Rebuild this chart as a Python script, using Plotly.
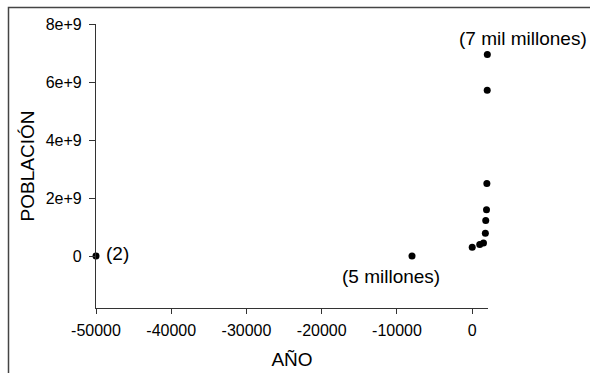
import plotly.graph_objects as go

years = [-50000, -8000, 1, 1000, 1500, 1750, 1800, 1900, 1950, 1995, 2011]
population = [2, 5e6, 3.0e8, 4.0e8, 4.5e8, 7.9e8, 1.23e9, 1.6e9, 2.5e9, 5.72e9, 6.95e9]

x_ticks = [-50000, -40000, -30000, -20000, -10000, 0]
x_tick_labels = ["-50000", "-40000", "-30000", "-20000", "-10000", "0"]
y_ticks = [0, 2e9, 4e9, 6e9, 8e9]
y_tick_labels = ["0", "2e+9", "4e+9", "6e+9", "8e+9"]

labels = ["(2)", "(5 millones)", "(7 mil millones)"]
label_idx = [0, 1, 10]

W, H = 590, 373
L, R, T, B = 96, 102, 24, 65
pw, ph = W - L - R, H - T - B

font = "Liberation Sans, Arial, sans-serif"

fig = go.Figure()
fig.add_trace(go.Scatter(
    x=years, y=population, mode="markers",
    marker=dict(color="black", size=7),
    cliponaxis=False, showlegend=False, hoverinfo="skip",
))

shifts = [(8, 3, "left"), (-21, -21, "center"), (36, 16, "center")]
for lab, i, (xs, ys, xa) in zip(labels, label_idx, shifts):
    fig.add_annotation(x=years[i], y=population[i], text=lab, showarrow=False,
                       xshift=xs, yshift=ys, xanchor=xa, yanchor="middle",
                       font=dict(size=19, color="black", family=font))

def px2paper_x(px):
    return (px - L) / pw

def px2paper_y(py):
    return (H - B - py) / ph

# outer frame (left and top edges visible; right/bottom fall outside the page)
fig.add_shape(type="rect", xref="paper", yref="paper",
              x0=px2paper_x(8.5), x1=px2paper_x(600), y0=px2paper_y(383), y1=px2paper_y(7.5),
              line=dict(color="#444444", width=1.5), fillcolor="rgba(0,0,0,0)", layer="below")

fig.update_layout(
    width=W, height=H,
    margin=dict(l=L, r=R, t=T, b=B),
    paper_bgcolor="white", plot_bgcolor="rgba(0,0,0,0)",
    font=dict(family=font, color="black"),
    xaxis=dict(range=[-50000, 2100], tickvals=x_ticks, ticktext=x_tick_labels,
               showline=True, linecolor="#333", linewidth=1.2, ticks="outside",
               ticklen=5, tickcolor="#333", showgrid=False, zeroline=False,
               tickfont=dict(size=16), ticklabelstandoff=3, automargin=False,
               title=dict(text="AÑO", font=dict(size=19), standoff=14)),
    yaxis=dict(range=[-1.79e9, 8e9], tickvals=y_ticks, ticktext=y_tick_labels,
               showline=True, linecolor="#333", linewidth=1.2, ticks="outside",
               ticklen=6, tickcolor="#333", showgrid=False, zeroline=False,
               tickfont=dict(size=16), ticklabelstandoff=4, automargin=False,
               title=dict(text="POBLACIÓN", font=dict(size=19), standoff=6)),
)

fig.write_html("out.html", config={"displayModeBar": False},
               post_script="document.body.style.margin='0';document.body.style.overflow='hidden';")
